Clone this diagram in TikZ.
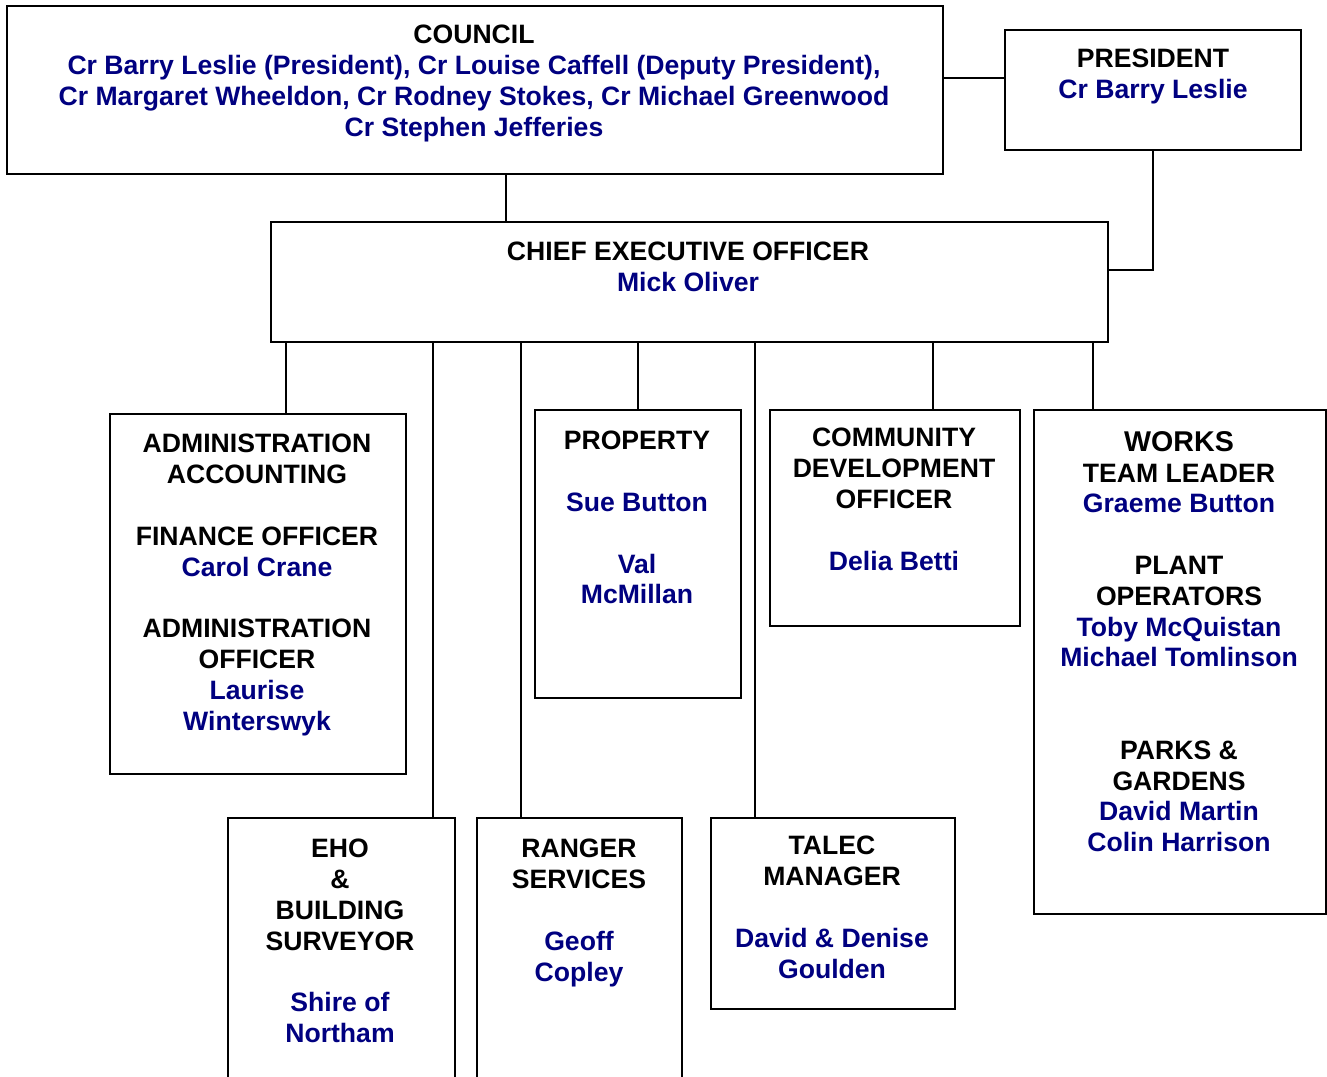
\documentclass[tikz,border=0pt]{standalone}
\usepackage{fontspec}
\setmainfont{Liberation Sans}
\usepackage{xcolor}
\usetikzlibrary{positioning,fit}
\definecolor{navy}{RGB}{0,0,128}
\newcommand{\who}[1]{\textcolor{navy}{#1}}

\begin{document}
\begin{tikzpicture}[x=0.5pt, y=-0.5pt,
  box/.style={draw, line width=1pt, inner sep=0pt},
  txt/.style={anchor=north, align=center, inner sep=0pt,
    font=\fontsize{13.3}{15.4}\selectfont\bfseries},
  link/.style={line width=1pt}]
\useasboundingbox (0,0) rectangle (1327,1076);
\clip (0,0) rectangle (1327,1076);
% boxes
\node[box, fit={(7,6) (943,174)}]      (council) {};
\node[box, fit={(1005,30) (1301,150)}] (president) {};
\node[box, fit={(271,222) (1108,342)}] (ceo) {};
\node[box, fit={(110,414) (406,774)}]  (admin) {};
\node[box, fit={(535,410) (741,698)}]  (property) {};
\node[box, fit={(770,410) (1020,626)}] (community) {};
\node[box, fit={(1034,410) (1326,914)}] (works) {};
\node[box, fit={(228,818) (455,1120)}] (eho) {};
\node[box, fit={(477,818) (682,1120)}] (ranger) {};
\node[box, fit={(711,818) (955,1009)}] (talec) {};
% texts
\node[txt] (councilT) at (474,25) {COUNCIL\\
  \who{Cr Barry Leslie (President), Cr Louise Caffell (Deputy President),}\\
  \who{Cr Margaret Wheeldon, Cr Rodney Stokes, Cr Michael Greenwood}\\
  \who{Cr Stephen Jefferies}};
\node[txt] (presidentT) at (1153,49) {PRESIDENT\\ \who{Cr Barry Leslie}};
\node[txt] (ceoT) at (688,242) {CHIEF EXECUTIVE OFFICER\\ \who{Mick Oliver}};
\node[txt] (adminT) at (257,434) {ADMINISTRATION\\ ACCOUNTING\\[15.4pt]
  FINANCE OFFICER\\ \who{Carol Crane}\\[15.4pt]
  ADMINISTRATION\\ OFFICER\\ \who{Laurise}\\ \who{Winterswyk}};
\node[txt] (propertyT) at (637,431) {PROPERTY\\[15.4pt] \who{Sue Button}\\[15.4pt]
  \who{Val}\\ \who{McMillan}};
\node[txt] (communityT) at (894,428) {COMMUNITY\\ DEVELOPMENT\\ OFFICER\\[15.4pt]
  \who{Delia Betti}};
\node[txt] (worksT) at (1179,431) {{\fontsize{14.3}{15.4}\selectfont WORKS}\\
  TEAM LEADER\\ \who{Graeme Button}\\[15.4pt]
  PLANT\\ OPERATORS\\ \who{Toby McQuistan}\\ \who{Michael Tomlinson}\\[30.8pt]
  PARKS \&\\ GARDENS\\ \who{David Martin}\\ \who{Colin Harrison}};
\node[txt] (ehoT) at (340,839) {EHO\\ \&\\ BUILDING\\ SURVEYOR\\[15.4pt]
  \who{Shire of}\\ \who{Northam}};
\node[txt] (rangerT) at (579,839) {RANGER\\ SERVICES\\[15.4pt] \who{Geoff}\\ \who{Copley}};
\node[txt] (talecT) at (832,836) {TALEC\\ MANAGER\\[15.4pt] \who{David \& Denise}\\
  \who{Goulden}};
% links
\draw[link] ([yshift=6pt]council.east) -- ([yshift=6pt]president.west);
\draw[link] (president.south) |- ([yshift=6pt]ceo.east);
\draw[link] ([xshift=15.5pt]council.south) -- ([xshift=15.5pt]council.south |- ceo.north);
\foreach \n/\dx in {admin/14, eho/45.75, ranger/-29.25, property/0,
                    talec/-39, community/18.75, works/-43.5}
  \draw[link] ([xshift=\dx pt]\n.north) -- ([xshift=\dx pt]\n.north |- ceo.south);
\end{tikzpicture}
\end{document}
